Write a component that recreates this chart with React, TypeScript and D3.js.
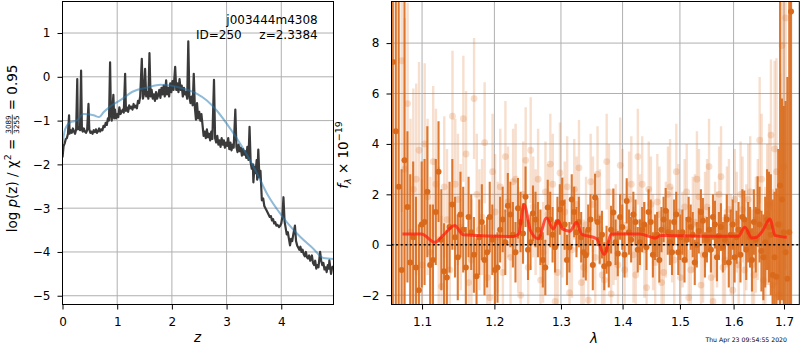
import React, { useEffect, useRef } from "react"
import * as d3 from "d3"

const FONT = "DejaVu Sans, sans-serif"

// ---- left panel: log p(z) ----
const zTicks = [0, 1, 2, 3, 4]
const pzTicks = [-5, -4, -3, -2, -1, 0, 1]

// [z, log p(z)]
const pzCurve: [number, number][] = [
  [0, -1.84], [0.02, -1.58], [0.04, -1.52], [0.06, -1.42], [0.08, -1.4], [0.1, -1.3],
  [0.12, -0.88], [0.13, -1.3], [0.15, -1.22], [0.17, -1.28], [0.19, -1.18], [0.21, -1.25],
  [0.23, -1.3], [0.25, -1.2], [0.27, -0.05], [0.28, -1.2], [0.3, -1.15], [0.32, -1.22],
  [0.34, 0.14], [0.355, -1.2], [0.37, -1.25], [0.39, -1.18], [0.41, -1.25], [0.43, -1.28],
  [0.45, -1.22], [0.475, -0.62], [0.49, -1.2], [0.51, -1.28], [0.53, -1.25], [0.55, -1.3],
  [0.57, -1.22], [0.59, -1.26], [0.61, -1.2], [0.63, -1.28], [0.65, -1.24], [0.67, -1.18],
  [0.69, -1.25], [0.71, -1.2], [0.73, -1.22], [0.75, -1.12], [0.77, -1.15], [0.79, -1.05],
  [0.81, -1.1], [0.83, -0.95], [0.85, -1.0], [0.87, 0.33], [0.885, -0.85], [0.9, -1.0],
  [0.93, -0.41], [0.945, -0.95], [0.96, -0.75], [0.98, -0.95], [1.0, -0.85], [1.02, -0.92],
  [1.04, -0.7], [1.06, -0.85], [1.08, -0.8], [1.1, -0.75], [1.12, -0.82], [1.145, 0.07],
  [1.16, -0.78], [1.18, -0.7], [1.2, -0.8], [1.22, -0.65], [1.24, -0.72], [1.26, -0.68],
  [1.28, -0.75], [1.3, -0.62], [1.32, -0.7], [1.34, -0.66], [1.36, -0.72], [1.38, -0.55],
  [1.4, -0.6], [1.42, -0.45], [1.45, 0.41], [1.47, -0.5], [1.49, -0.4], [1.51, 0.18],
  [1.53, -0.45], [1.55, -0.35], [1.57, -0.5], [1.59, 0.54], [1.61, -0.45], [1.63, -0.3],
  [1.65, -0.5], [1.67, -0.4], [1.69, -0.55], [1.71, -0.35], [1.73, -0.5], [1.75, -0.42],
  [1.77, -0.3], [1.79, -0.48], [1.81, -0.25], [1.83, -0.4], [1.85, -0.2], [1.87, -0.45],
  [1.895, -0.08], [1.91, -0.4], [1.93, -0.25], [1.95, -0.45], [1.97, -0.15], [1.99, -0.35],
  [2.01, -0.1], [2.03, -0.3], [2.06, 0.23], [2.08, -0.3], [2.1, -0.15], [2.12, -0.35],
  [2.14, -0.05], [2.16, -0.3], [2.18, -0.2], [2.2, -0.45], [2.22, -0.25], [2.24, -0.4],
  [2.26, -0.35], [2.28, -0.5], [2.3, 0.81], [2.32, -0.45], [2.34, -0.6], [2.36, -0.45],
  [2.38, -0.65], [2.4, 0.07], [2.42, -0.7], [2.44, -0.98], [2.46, -0.6], [2.48, -0.95],
  [2.5, -0.8], [2.52, -1.0], [2.54, -0.85], [2.56, -1.1], [2.58, -1.35], [2.6, -1.25],
  [2.62, -1.4], [2.64, -1.2], [2.66, -1.38], [2.68, -1.3], [2.7, -1.45], [2.72, -1.25],
  [2.74, -1.42], [2.77, -0.07], [2.79, -1.4], [2.81, -1.5], [2.83, -1.35], [2.85, -1.55],
  [2.87, -1.45], [2.89, -1.6], [2.91, -1.4], [2.93, -1.55], [2.95, -1.45], [2.97, -1.62],
  [2.99, -1.5], [3.01, -1.58], [3.03, -1.4], [3.05, -1.65], [3.07, -1.5], [3.09, -1.68],
  [3.11, -1.55], [3.13, -1.62], [3.16, -0.75], [3.18, -1.6], [3.2, -1.72], [3.22, -1.55],
  [3.24, -1.7], [3.26, -1.62], [3.28, -1.8], [3.3, -1.65], [3.32, -1.78], [3.34, -1.7],
  [3.36, -1.85], [3.38, -1.6], [3.4, -1.9], [3.42, -1.14], [3.44, -1.95], [3.46, -2.1],
  [3.48, -2.0], [3.49, -2.41], [3.51, -2.05], [3.53, -2.2], [3.55, -1.9], [3.56, -2.35],
  [3.58, -1.66], [3.6, -2.3], [3.62, -2.15], [3.645, -2.82], [3.67, -2.78], [3.69, -2.95],
  [3.71, -3.0], [3.73, -3.05], [3.75, -3.1], [3.77, -3.15], [3.79, -3.2], [3.81, -3.18],
  [3.83, -3.28], [3.85, -3.25], [3.87, -3.35], [3.89, -3.32], [3.91, -3.4], [3.93, -3.38],
  [3.96, -3.43], [3.98, -3.4], [4.0, -3.35], [4.02, -3.2], [4.04, -2.75], [4.06, -3.3],
  [4.08, -3.45], [4.1, -3.6], [4.12, -3.55], [4.14, -3.7], [4.16, -3.85], [4.18, -3.7],
  [4.2, -3.75], [4.22, -3.6], [4.25, -3.4], [4.27, -3.75], [4.29, -3.85], [4.31, -3.9],
  [4.33, -3.95], [4.35, -3.88], [4.37, -4.0], [4.39, -3.95], [4.41, -4.05], [4.43, -4.1],
  [4.45, -4.0], [4.47, -4.12], [4.49, -4.15], [4.51, -4.08], [4.53, -4.2], [4.56, -4.08],
  [4.58, -4.25], [4.6, -4.3], [4.62, -4.2], [4.64, -4.38], [4.66, -4.3], [4.68, -4.35],
  [4.71, -4.0], [4.73, -4.2], [4.75, -4.3], [4.77, -4.25], [4.79, -4.4], [4.81, -4.35],
  [4.83, -4.46], [4.85, -4.3], [4.87, -4.38], [4.88, -4.19], [4.9, -4.4], [4.91, -4.5],
  [4.93, -4.35], [4.95, -4.33],
]

// smooth prior-like curve
const priorCurve: [number, number][] = [
  [0, -1.53], [0.05, -1.19], [0.14, -1.04], [0.26, -1.0], [0.38, -0.85], [0.57, -0.88],
  [0.67, -0.92], [0.75, -0.81], [0.87, -0.68], [1.05, -0.54], [1.3, -0.33], [1.54, -0.25],
  [1.79, -0.18], [1.97, -0.2], [2.21, -0.27], [2.46, -0.39], [2.64, -0.54], [2.82, -0.77],
  [3.07, -1.19], [3.25, -1.53], [3.43, -1.91], [3.59, -2.29], [3.74, -2.67], [3.92, -3.02],
  [4.1, -3.32], [4.35, -3.66], [4.59, -3.93], [4.77, -4.14], [4.96, -4.16],
]

// ---- right panel: spectrum ----
const waveTicks = [1.1, 1.2, 1.3, 1.4, 1.5, 1.6, 1.7]
const fluxTicks = [-2, 0, 2, 4, 6, 8]

// first (solid) set
const waveA = [
  1.062, 1.0695, 1.077, 1.0845, 1.092, 1.0995, 1.107, 1.1145, 1.122, 1.1295,
  1.137, 1.1445, 1.152, 1.1595, 1.167, 1.1745, 1.182, 1.1895, 1.197, 1.2045,
  1.212, 1.2195, 1.227, 1.2345, 1.242, 1.2495, 1.257, 1.2645, 1.272, 1.2795,
  1.287, 1.2945, 1.302, 1.3095, 1.317, 1.3245, 1.332, 1.3395, 1.347, 1.3545,
  1.362, 1.3695, 1.377, 1.3845, 1.392, 1.3995, 1.407, 1.4145, 1.422, 1.4295,
  1.437, 1.4445, 1.452, 1.4595, 1.467, 1.4745, 1.482, 1.4895, 1.497, 1.5045,
  1.512, 1.5195, 1.527, 1.5345, 1.542, 1.5495, 1.557, 1.5645, 1.572, 1.5795,
  1.587, 1.5945, 1.602, 1.6095, 1.617, 1.6245, 1.632, 1.6395, 1.647, 1.6545,
  1.662, 1.6695, 1.677, 1.6845, 1.692, 1.6995, 1.707, 1.7145,
]
const fluxA = [
  7.25, 2.3, 3.35, -0.7, -0.9, 0.8, 2.1, -0.6, 2.9, -1.05,
  0.7, 0.3, 1.2, -0.9, 0.5, -1.25, 0.9, -0.3, 0.2, -0.9,
  1.0, 1.55, 0.4, 1.45, 0.45, -0.2, 1.25, 0.6, -0.6, 1.48,
  0.4, 0.9, 1.66, -0.6, 1.8, 0.5, 0.3, -0.42, 1.0, 1.87,
  0.2, -0.85, -0.75, 1.28, -0.35, 0.7, 1.74, 0.2, 0.9, 0.1,
  0.8, 1.3, -0.4, 0.4, 0.6, 1.35, 0.1, 0.9, -0.3, 0.5,
  0.2, 0.7, -0.7, 0.55, 0.95, 0.2, -0.2, 0.8, 0.35, -0.1,
  1.0, 0.4, -0.5, 0.6, 1.1, -0.2, 0.3, 0.9, 1.32, -0.25,
  0.1, 0.7, -1.2, -1.27, 2.35, 0.5, -1.35, 9.25,
]
const errA = [
  20, 15, 12, 3.5, 2.8, 2.5, 2.6, 2.2, 2.0, 1.9,
  1.8, 1.6, 1.7, 1.6, 1.5, 1.5, 1.5, 1.4, 1.4, 1.4,
  1.3, 1.3, 1.3, 1.2, 1.2, 1.2, 1.1, 1.1, 1.1, 1.1,
  1.1, 1.0, 1.0, 1.0, 1.0, 1.0, 1.0, 1.0, 1.0, 0.95,
  0.95, 0.95, 0.95, 0.95, 0.9, 0.9, 0.9, 0.9, 0.9, 0.9,
  0.9, 0.9, 0.9, 0.9, 0.9, 0.9, 0.9, 0.9, 0.9, 0.9,
  0.9, 0.9, 0.9, 0.9, 0.9, 0.9, 0.9, 0.95, 0.95, 1.0,
  1.0, 1.0, 1.0, 1.1, 1.1, 1.2, 1.2, 1.3, 1.4, 1.6,
  1.8, 2.2, 3, 3.5, 9, 5, 8, 20,
]
// more solid points, [wave, flux, err]
const extraA: [number, number, number][] = [
  [1.0658, 4.5, 18], [1.0733, -1.0, 4], [1.0808, 1.5, 3], [1.0883, 0.3, 3.0], [1.0958, -1.8, 2.6],
  [1.1033, 0.9, 2.5], [1.1108, -0.8, 2.4], [1.1183, 1.3, 2.1], [1.1258, 0.2, 2.0], [1.1333, -1.3, 1.9],
  [1.1408, 1.6, 1.8], [1.1483, -0.5, 1.7], [1.1558, 0.6, 1.7], [1.1633, 1.1, 1.6], [1.1708, -0.4, 1.5],
  [1.1783, 0.3, 1.5], [1.1858, -0.6, 1.4], [1.1933, 1.1, 1.4], [1.2008, -1.0, 1.4], [1.2083, 0.6, 1.3],
  [1.2158, 0.1, 1.3], [1.2233, 1.2, 1.3], [1.2308, -0.3, 1.2], [1.2383, 0.9, 1.2], [1.2458, 1.9, 1.2],
  [1.2533, 0.1, 1.1], [1.2608, 1.0, 1.1], [1.2683, 0.3, 1.1], [1.2758, -0.9, 1.1], [1.2833, 1.0, 1.1],
  [1.2908, -0.1, 1.0], [1.2983, 1.4, 1.0], [1.3058, 0.8, 1.0], [1.3133, -0.1, 1.0], [1.3208, 1.3, 1.0],
  [1.3283, 0.9, 1.0], [1.3358, -0.3, 1.0], [1.3433, 0.6, 1.0], [1.3508, -0.8, 1.0], [1.3583, 0.9, 0.95],
  [1.3658, 0.4, 0.95], [1.3733, -0.2, 0.95], [1.3808, 0.6, 0.95], [1.3883, 0.1, 0.9], [1.3958, 1.1, 0.9],
  [1.4033, -0.4, 0.9], [1.4108, 0.5, 0.9], [1.4183, 1.2, 0.9], [1.4258, -0.2, 0.9], [1.4333, 0.6, 0.9],
  [1.4408, -0.1, 0.9], [1.4483, 0.9, 0.9], [1.4558, 0.3, 0.9], [1.4633, -0.6, 0.9], [1.4708, 1.0, 0.9],
  [1.4783, 0.5, 0.9], [1.4858, -0.3, 0.9], [1.4933, 1.2, 0.9], [1.5008, 0.3, 0.9], [1.5083, -0.6, 0.9],
  [1.5158, 1.0, 0.9], [1.5233, 0.4, 0.9], [1.5308, 0.0, 0.9], [1.5383, 1.3, 0.9], [1.5458, -0.4, 0.9],
  [1.5533, 0.6, 0.9], [1.5608, 1.1, 0.9], [1.5683, -0.5, 0.95], [1.5758, 0.7, 0.95], [1.5833, 0.2, 1.0],
  [1.5908, -0.7, 1.0], [1.5983, 0.8, 1.0], [1.6058, 0.3, 1.05], [1.6133, -0.4, 1.1], [1.6208, 1.0, 1.15],
  [1.6283, 0.5, 1.2], [1.6358, -0.6, 1.25], [1.6433, 0.2, 1.3], [1.6508, 0.8, 1.5], [1.6583, -0.5, 1.7],
  [1.6658, 1.0, 2.0], [1.6733, 0.4, 2.4], [1.6808, -0.5, 2.6], [1.6883, 0.8, 3], [1.6958, 1.8, 4],
  [1.7033, -0.3, 6], [1.7108, 0.5, 14],
]

// second (faint) set
const waveB = [
  1.0735, 1.081, 1.0885, 1.096, 1.1035, 1.111, 1.1185, 1.126, 1.1335, 1.141,
  1.1485, 1.156, 1.1635, 1.171, 1.1785, 1.186, 1.1935, 1.201, 1.2085, 1.216,
  1.2235, 1.231, 1.2385, 1.246, 1.2535, 1.261, 1.2685, 1.276, 1.2835, 1.291,
  1.2985, 1.306, 1.3135, 1.321, 1.3285, 1.336, 1.3435, 1.351, 1.3585, 1.366,
  1.3735, 1.381, 1.3885, 1.396, 1.4035, 1.411, 1.4185, 1.426, 1.4335, 1.441,
  1.4485, 1.456, 1.4635, 1.471, 1.4785, 1.486, 1.4935, 1.501, 1.5085, 1.516,
  1.5235, 1.531, 1.5385, 1.546, 1.5535, 1.561, 1.5685, 1.576, 1.5835, 1.591,
  1.5985, 1.606, 1.6135, 1.621, 1.6285, 1.636, 1.6435, 1.651, 1.6585, 1.666,
  1.6735, 1.681, 1.6885, 1.696, 1.7035,
]
const fluxB = [
  7.3, 5.6, 2.2, 3.75, 4.0, -0.3, 2.4, -1.65, 1.0, 5.1,
  1.8, 5.0, -1.5, 5.8, 0.6, 4.05, -2.1, 1.3, 2.3, 3.5,
  -0.5, 2.6, -2.0, 3.35, 3.75, 0.9, -1.4, 2.1, 3.2, -2.25,
  2.85, 1.3, -1.9, 2.2, 3.05, -0.9, -2.2, 1.6, 2.8, -1.2,
  3.3, -1.95, 0.5, 3.15, -1.0, 1.8, -0.4, 3.5, 2.4, -1.7,
  1.6, -0.7, 1.2, -1.1, 2.0, 0.4, 2.9, -1.3, 1.5, -2.1,
  0.8, 2.6, -1.6, 1.0, 3.1, -2.25, 0.2, 2.7, -0.6, 1.4,
  -1.8, 0.9, 2.0, -1.0, 1.8, -0.8, 0.4, 4.15, -1.4, 1.2,
  4.35, 3.8, -2.0, 7.9, 9.0,
]
const errB = [
  6, 4, 4, 3.5, 3.2, 3, 3, 2.8, 2.8, 2.6,
  2.6, 2.5, 2.5, 2.4, 2.4, 2.4, 2.3, 2.3, 2.3, 2.2,
  2.2, 2.2, 2.2, 2.1, 2.1, 2.1, 2.1, 2.0, 2.0, 2.0,
  2.0, 2.0, 2.0, 2.0, 1.9, 1.9, 1.9, 1.9, 1.9, 1.9,
  1.9, 1.9, 1.9, 1.9, 1.9, 1.9, 1.9, 1.9, 1.9, 1.9,
  1.9, 1.9, 1.9, 1.9, 1.9, 1.9, 1.9, 1.9, 1.9, 1.9,
  1.9, 1.9, 1.9, 1.9, 1.9, 1.9, 1.9, 2.0, 2.0, 2.0,
  2.0, 2.0, 2.1, 2.1, 2.2, 2.2, 2.3, 2.5, 2.6, 2.8,
  3.0, 3.5, 4, 6, 10,
]
const extraB: [number, number, number][] = [
  [1.0773, 3.0, 6], [1.0848, 0.5, 4.5], [1.0923, 2.6, 3.8], [1.0998, -0.8, 3.4], [1.1073, 1.9, 3.1],
  [1.1148, 3.3, 3.0], [1.1223, 0.2, 2.9], [1.1298, 2.3, 2.8], [1.1373, -1.0, 2.7], [1.1448, 2.4, 2.6],
  [1.1523, 0.7, 2.5], [1.1598, 3.6, 2.5], [1.1673, -0.6, 2.4], [1.1748, 2.0, 2.4], [1.1823, 1.1, 2.3],
  [1.1898, -1.3, 2.3], [1.1973, 2.9, 2.3], [1.2048, 0.3, 2.2], [1.2123, -1.1, 2.2], [1.2198, 1.7, 2.2],
  [1.2273, 2.5, 2.1], [1.2348, 0.2, 2.1], [1.2423, 2.0, 2.1], [1.2498, -0.9, 2.1], [1.2573, 1.5, 2.0],
  [1.2648, 2.6, 2.0], [1.2723, -0.3, 2.0], [1.2798, 1.2, 2.0], [1.2873, 2.4, 2.0], [1.2948, -1.1, 2.0],
  [1.3023, 0.7, 2.0], [1.3098, 2.3, 2.0], [1.3173, -0.2, 1.9], [1.3248, 1.6, 1.9], [1.3323, -1.5, 1.9],
  [1.3398, 0.8, 1.9], [1.3473, 2.5, 1.9], [1.3548, -0.5, 1.9], [1.3623, 1.1, 1.9], [1.3698, -1.4, 1.9],
  [1.3773, 2.1, 1.9], [1.3848, 0.3, 1.9], [1.3923, -0.8, 1.9], [1.3998, 1.9, 1.9], [1.4073, 0.6, 1.9],
  [1.4148, 2.4, 1.9], [1.4223, -1.2, 1.9], [1.4298, 0.9, 1.9], [1.4373, -0.2, 1.9], [1.4448, 2.2, 1.9],
  [1.4523, 0.1, 1.9], [1.4598, 1.7, 1.9], [1.4673, -1.5, 1.9], [1.4748, 0.6, 1.9], [1.4823, 2.3, 1.9],
  [1.4898, -0.6, 1.9], [1.4973, 1.3, 1.9], [1.5048, 0.2, 1.9], [1.5123, 2.1, 1.9], [1.5198, -1.0, 1.9],
  [1.5273, 0.9, 1.9], [1.5348, 1.9, 1.9], [1.5423, -0.4, 1.9], [1.5498, 1.5, 1.9], [1.5573, -1.3, 1.9],
  [1.5648, 0.6, 1.9], [1.5723, 2.0, 1.9], [1.5798, -0.9, 2.0], [1.5873, 1.1, 2.0], [1.5948, 0.0, 2.0],
  [1.6023, 1.8, 2.0], [1.6098, -0.8, 2.0], [1.6173, 1.4, 2.1], [1.6248, 0.3, 2.1], [1.6323, 2.1, 2.2],
  [1.6398, -1.2, 2.3], [1.6473, 1.0, 2.4], [1.6548, 2.6, 2.6], [1.6623, -0.5, 2.8], [1.6698, 1.6, 3.2],
  [1.6773, -1.6, 3.8], [1.6848, 2.9, 4.5], [1.6923, 0.8, 6], [1.6998, 3.1, 9],
]

const modelWave = [
  1.0744, 1.0992, 1.117, 1.1282, 1.1441, 1.1556, 1.2273, 1.2355, 1.2436, 1.2532,
  1.2648, 1.2777, 1.2878, 1.2957, 1.3024, 1.314, 1.3246, 1.3326, 1.3569, 1.3694,
  1.3816, 1.4294, 1.4555, 1.4672, 1.5487, 1.609, 1.6219, 1.6351, 1.645, 1.6569,
  1.6716, 1.6817, 1.7056,
]
const modelFlux = [
  0.43, 0.43, 0.1, 0.37, 0.76, 0.4, 0.33, 0.42, 1.6, 0.56,
  0.24, 1.06, 0.63, 0.95, 0.63, 0.54, 0.89, 0.43, 0.24, -0.38,
  0.43, 0.43, 0.27, 0.37, 0.34, 0.34, 0.69, 0.27, 0.3, 0.56,
  1.02, 0.37, 0.3,
]

const ORANGE = "#d96a1b"

type Box = { left: number; right: number; top: number; bottom: number }
type Pt = { w: number; f: number; e: number }

const toPts = (w: number[], f: number[], e: number[], extra: [number, number, number][]): Pt[] =>
  w.map((d, i) => ({ w: d, f: f[i], e: e[i] })).concat(extra.map(([w2, f2, e2]) => ({ w: w2, f: f2, e: e2 })))

function frame(svg: any, box: Box, x: any, y: any, xTicks: number[], yTicks: number[], xFmt: any, yFmt: any) {
  const gx = svg.append("g").attr("stroke", "#b0b0b0").attr("stroke-width", 1)
  gx.selectAll("line")
    .data(xTicks)
    .join("line")
    .attr("x1", (d: number) => x(d))
    .attr("x2", (d: number) => x(d))
    .attr("y1", box.top)
    .attr("y2", box.bottom)
  const gy = svg.append("g").attr("stroke", "#b0b0b0").attr("stroke-width", 1)
  gy.selectAll("line")
    .data(yTicks)
    .join("line")
    .attr("x1", box.left)
    .attr("x2", box.right)
    .attr("y1", (d: number) => y(d))
    .attr("y2", (d: number) => y(d))

  // axes + spines go on top of the data, so hand them back for later
  return () => {
    const xa = svg
      .append("g")
      .attr("transform", `translate(0,${box.bottom})`)
      .call(d3.axisBottom(x).tickValues(xTicks).tickFormat(xFmt).tickSize(5).tickPadding(8))
    xa.select(".domain").remove()
    xa.attr("font-size", 12).attr("font-family", FONT)

    const ya = svg
      .append("g")
      .attr("transform", `translate(${box.left},0)`)
      .call(d3.axisLeft(y).tickValues(yTicks).tickFormat(yFmt).tickSize(5).tickPadding(7))
    ya.select(".domain").remove()
    ya.attr("font-size", 12).attr("font-family", FONT)

    svg
      .append("rect")
      .attr("x", box.left)
      .attr("y", box.top)
      .attr("width", box.right - box.left)
      .attr("height", box.bottom - box.top)
      .attr("fill", "none")
      .attr("stroke", "#000")
      .attr("stroke-width", 1)
  }
}

const App = () => {
  const ref = useRef<SVGSVGElement>(null)

  useEffect(() => {
    const svg = d3.select(ref.current)
    svg.selectAll("*").remove()

    // ---------- p(z) panel ----------
    const boxL: Box = { left: 62.5, right: 333.5, top: 1.5, bottom: 304.5 }
    const zx = d3.scaleLinear().domain([0, 4.955]).range([boxL.left, boxL.right])
    const zy = d3.scaleLinear().domain([-5.2, 1.72]).range([boxL.bottom, boxL.top])

    const defs = svg.append("defs")
    defs.append("clipPath").attr("id", "clip-pz").append("rect")
      .attr("x", boxL.left).attr("y", boxL.top)
      .attr("width", boxL.right - boxL.left).attr("height", boxL.bottom - boxL.top)

    const finishL = frame(svg, boxL, zx, zy, zTicks, pzTicks, d3.format("d"), d3.format("d"))

    const line = d3.line<[number, number]>().x((d) => zx(d[0])).y((d) => zy(d[1]))
    const gL = svg.append("g").attr("clip-path", "url(#clip-pz)")
    gL.append("path")
      .attr("d", line(pzCurve))
      .attr("fill", "none")
      .attr("stroke", "#3a3a3a")
      .attr("stroke-width", 2.2)
      .attr("stroke-linejoin", "round")
    gL.append("path")
      .attr("d", line.curve(d3.curveMonotoneX)(priorCurve))
      .attr("fill", "none")
      .attr("stroke", "#1f77b4")
      .attr("stroke-opacity", 0.5)
      .attr("stroke-width", 2)
    finishL()

    svg.append("text")
      .attr("x", 317.7).attr("y", 24)
      .attr("text-anchor", "end")
      .attr("font-size", 12).attr("font-family", FONT)
      .text("j003444m4308")
    svg.append("text")
      .attr("x", 241.7).attr("y", 39)
      .attr("text-anchor", "end")
      .attr("font-size", 12).attr("font-family", FONT)
      .text("ID=250")
    svg.append("text")
      .attr("x", 317.7).attr("y", 39)
      .attr("text-anchor", "end")
      .attr("font-size", 12).attr("font-family", FONT)
      .text("z=2.3384")

    svg.append("text")
      .attr("x", 197.5).attr("y", 342)
      .attr("text-anchor", "middle")
      .attr("font-size", 13.5).attr("font-style", "italic").attr("font-family", FONT)
      .text("z")

    // y label with stacked fraction, laid out along the rotated baseline
    const lab = svg.append("g").attr("font-family", FONT)
    let cur = 0
    const main = lab.append("text").attr("x", 0).attr("y", 0).attr("font-size", 13.5).style("white-space", "pre")
    main.append("tspan").text("log ")
    main.append("tspan").attr("font-style", "italic").text("p")
    main.append("tspan").text("(z) / χ")
    main.append("tspan").attr("font-size", 9.5).attr("dy", -5.5).text("2")
    main.append("tspan").attr("dy", 5.5).text(" = ")
    cur += (main.node() as SVGTextElement).getComputedTextLength()
    const num = lab.append("text").attr("font-size", 7.2).attr("text-anchor", "middle").text("3089")
    const den = lab.append("text").attr("font-size", 7.2).attr("text-anchor", "middle").text("3255")
    const fw = Math.max(
      (num.node() as SVGTextElement).getComputedTextLength(),
      (den.node() as SVGTextElement).getComputedTextLength()
    ) + 1.5
    num.attr("x", cur + fw / 2).attr("y", -5.2)
    den.attr("x", cur + fw / 2).attr("y", 2.0)
    lab.append("line")
      .attr("x1", cur).attr("x2", cur + fw)
      .attr("y1", -4.2).attr("y2", -4.2)
      .attr("stroke", "#000").attr("stroke-width", 0.7)
    cur += fw
    const tail = lab.append("text").attr("x", cur).attr("y", 0).attr("font-size", 13.5).style("white-space", "pre").text(" = 0.95")
    cur += (tail.node() as SVGTextElement).getComputedTextLength()
    lab.attr("transform", `translate(16.5,${148.5 + cur / 2}) rotate(-90)`)

    // ---------- spectrum panel ----------
    const boxR: Box = { left: 391.5, right: 799.3, top: 1.5, bottom: 304.5 }
    const lx = d3.scaleLog().domain([1.0603, 1.7316]).range([boxR.left, boxR.right])
    const ly = d3.scaleLinear().domain([-2.37, 9.65]).range([boxR.bottom, boxR.top])

    defs.append("clipPath").attr("id", "clip-spec").append("rect")
      .attr("x", boxR.left).attr("y", boxR.top)
      .attr("width", boxR.right - boxR.left).attr("height", boxR.bottom - boxR.top)

    const finishR = frame(svg, boxR, lx, ly, waveTicks, fluxTicks, d3.format(".1f"), d3.format("d"))

    const gR = svg.append("g").attr("clip-path", "url(#clip-spec)")

    const ptsB = toPts(waveB, fluxB, errB, extraB)
    gR.append("g").selectAll("line")
      .data(ptsB)
      .join("line")
      .attr("x1", (d) => lx(d.w))
      .attr("x2", (d) => lx(d.w))
      .attr("y1", (d) => ly(d.f - d.e))
      .attr("y2", (d) => ly(d.f + d.e))
      .attr("stroke", ORANGE)
      .attr("stroke-opacity", 0.22)
      .attr("stroke-width", 2.4)
    gR.append("g").selectAll("circle")
      .data(ptsB)
      .join("circle")
      .attr("cx", (d) => lx(d.w))
      .attr("cy", (d) => ly(d.f))
      .attr("r", 3.4)
      .attr("fill", ORANGE)
      .attr("fill-opacity", 0.22)

    const ptsA = toPts(waveA, fluxA, errA, extraA)
    gR.append("g").selectAll("line")
      .data(ptsA)
      .join("line")
      .attr("x1", (d) => lx(d.w))
      .attr("x2", (d) => lx(d.w))
      .attr("y1", (d) => ly(d.f - d.e))
      .attr("y2", (d) => ly(d.f + d.e))
      .attr("stroke", ORANGE)
      .attr("stroke-opacity", 0.9)
      .attr("stroke-width", 2.1)
    gR.append("g").selectAll("circle")
      .data(ptsA)
      .join("circle")
      .attr("cx", (d) => lx(d.w))
      .attr("cy", (d) => ly(d.f))
      .attr("r", 3)
      .attr("fill", ORANGE)

    const model = d3.line<number>()
      .x((i) => lx(modelWave[i]))
      .y((i) => ly(modelFlux[i]))
      .curve(d3.curveMonotoneX)
    gR.append("path")
      .attr("d", model(d3.range(modelWave.length)))
      .attr("fill", "none")
      .attr("stroke", "#ff1f10")
      .attr("stroke-opacity", 0.75)
      .attr("stroke-width", 3)

    gR.append("line")
      .attr("x1", boxR.left).attr("x2", boxR.right)
      .attr("y1", ly(0)).attr("y2", ly(0))
      .attr("stroke", "#000")
      .attr("stroke-width", 1.6)
      .attr("stroke-dasharray", "2,2.6")
    finishR()

    svg.append("text")
      .attr("x", 594).attr("y", 343)
      .attr("text-anchor", "middle")
      .attr("font-size", 13.5).attr("font-style", "italic").attr("font-family", FONT)
      .text("λ")

    const ylab = svg.append("text")
      .attr("transform", "translate(347.5,155) rotate(-90)")
      .attr("text-anchor", "middle")
      .attr("font-size", 13.5)
      .attr("font-family", FONT)
      .style("white-space", "pre")
    ylab.append("tspan").attr("font-style", "italic").text("f")
    ylab.append("tspan").attr("font-style", "italic").attr("font-size", 9.5).attr("dy", 3).text("λ")
    ylab.append("tspan").attr("dy", -3).text(" × 10")
    ylab.append("tspan").attr("font-size", 9.5).attr("dy", -5.5).text("−19")

    svg.append("text")
      .attr("x", 787).attr("y", 342)
      .attr("text-anchor", "end")
      .attr("font-size", 6.2)
      .attr("fill", "#000")
      .attr("font-family", FONT)
      .text("Thu Apr 23 09:54:55 2020")
  }, [])

  return (
    <svg
      ref={ref}
      width={800}
      height={350}
      style={{ position: "absolute", left: 0, top: 0, background: "#fff" }}
    />
  )
}

export default App
